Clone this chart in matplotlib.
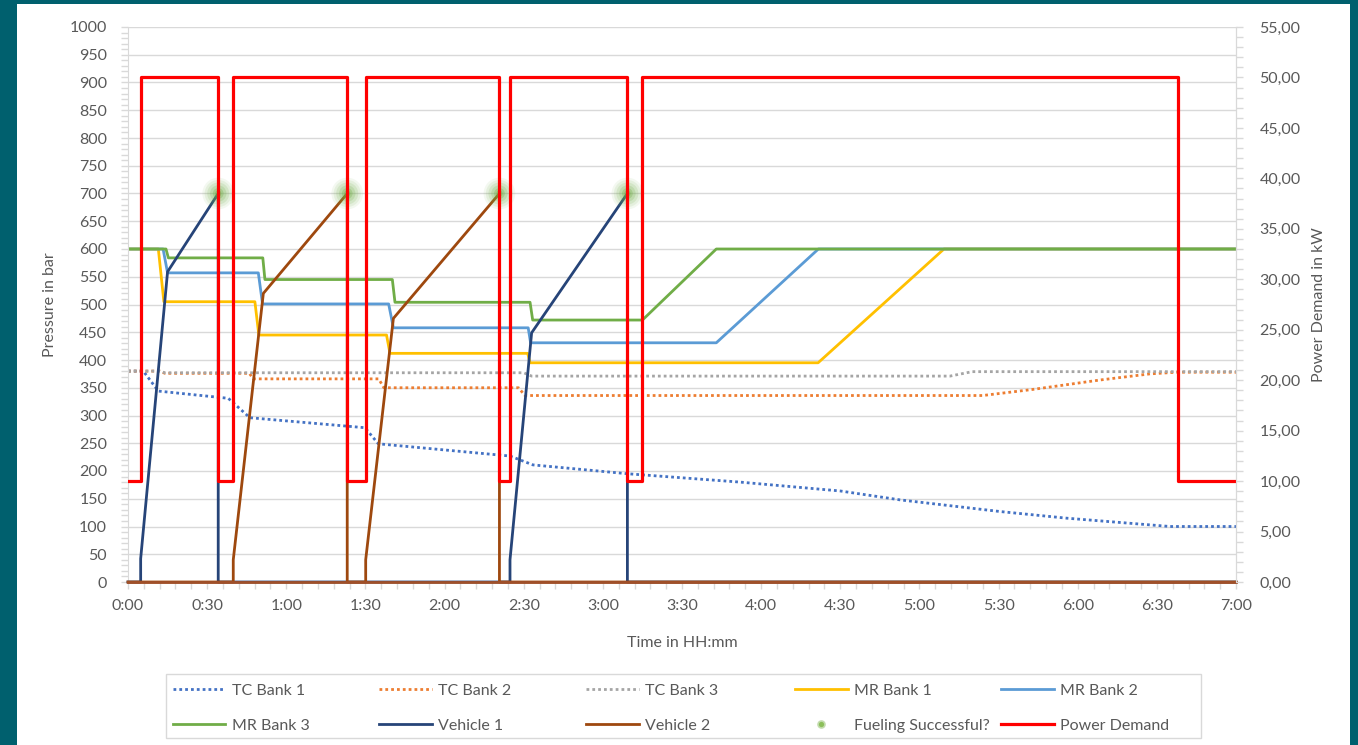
import numpy as np
import matplotlib.pyplot as plt
from matplotlib.patches import Rectangle
from matplotlib.lines import Line2D
from matplotlib.ticker import MultipleLocator, FuncFormatter

plt.rcParams['font.family'] = ['Lato', 'DejaVu Sans']

# time in minutes, pressure in bar
tc1_t = [0, 5.8, 11.5, 38, 46.2, 89.8, 94.9, 144.8, 153.5, 189.5, 232, 270, 292.6, 330.5, 355.8, 395, 420]
tc1_p = [380, 380, 344, 331, 296, 278, 249, 227, 211, 195, 180, 164, 148, 127, 115, 100, 100]

tc2_t = [0, 12, 14, 46, 47.5, 95, 97, 148, 150.5, 324, 343, 368.5, 387.4, 397.5, 420]
tc2_p = [380, 380, 376, 376, 366, 366, 350, 350, 336, 336, 347, 364, 375, 378, 378]

tc3_t = [0, 12, 14, 150, 153, 311.6, 320, 420]
tc3_p = [380, 380, 377, 377, 371, 371, 379, 379]

mr1_t = [0, 11.5, 13.6, 48.1, 49.6, 98, 99.3, 151.5, 152.4, 261.6, 309.3, 420]
mr1_p = [600, 600, 505, 505, 445, 445, 412, 412, 395, 395, 600, 600]

mr2_t = [0, 13.3, 15, 49.4, 51, 98.8, 100.6, 151.7, 152.6, 223, 261.7, 420]
mr2_p = [600, 600, 557, 557, 501, 501, 458, 458, 431, 431, 600, 600]

mr3_t = [0, 14.4, 15.3, 51.1, 51.9, 100.2, 101.2, 152.4, 153.4, 195, 223, 420]
mr3_p = [600, 600, 584, 584, 545, 545, 504, 504, 472, 472, 600, 600]

veh1_t = [0, 4.8, 4.8, 15, 34.2, 34.2, 144.8, 144.8, 153, 189.3, 189.3, 420]
veh1_p = [0, 0, 42, 559, 700, 0, 0, 40, 449, 700, 0, 0]

veh2_t = [0, 39.9, 39.9, 51.3, 83.1, 83.1, 90.1, 90.1, 100.6, 140.8, 140.8, 420]
veh2_p = [0, 0, 40, 520, 700, 0, 0, 40, 475, 700, 0, 0]

fuel_t = [34.2, 83.1, 140.8, 189.3]
fuel_p = [700, 700, 700, 700]

# power demand in kW (step changes)
pwr_t = [0, 4.8, 34.2, 39.9, 83.1, 90.1, 140.8, 144.8, 189.3, 194.7, 398.2, 420]
pwr_kw = [10, 50, 10, 50, 10, 50, 10, 50, 10, 50, 10, 10]

teal = '#00606e'
grey_txt = '#595959'
grid_c = '#d9d9d9'

fig = plt.figure(figsize=(13.58, 7.45), dpi=100, facecolor=teal)
fig.add_artist(Rectangle((17/1358, 0), 1333/1358, 741/745, transform=fig.transFigure,
                         facecolor='white', edgecolor='none', zorder=-10))

ax = fig.add_axes([128/1358, 1-582/745, 1108/1358, 555/745])
ax2 = ax.twinx()

dot = (0, (1, 1.1))
lines = []
lines += ax.plot(tc1_t, tc1_p, color='#4472c4', lw=2, ls=dot, label='TC Bank 1')
lines += ax.plot(tc2_t, tc2_p, color='#ed7d31', lw=2, ls=dot, label='TC Bank 2')
lines += ax.plot(tc3_t, tc3_p, color='#a5a5a5', lw=2, ls=dot, label='TC Bank 3')
lines += ax.plot(mr1_t, mr1_p, color='#ffc000', lw=2, label='MR Bank 1')
lines += ax.plot(mr2_t, mr2_p, color='#5b9bd5', lw=2, label='MR Bank 2')
lines += ax.plot(mr3_t, mr3_p, color='#70ad47', lw=2, label='MR Bank 3')
lines += ax.plot(veh1_t, veh1_p, color='#264478', lw=2, label='Vehicle 1', clip_on=False, zorder=2.6)
lines += ax.plot(veh2_t, veh2_p, color='#9e480e', lw=2, label='Vehicle 2', clip_on=False, zorder=2.7)

# soft glow for the fueling points
for s, a in [(520, 0.08), (380, 0.11), (250, 0.15), (140, 0.2), (60, 0.3), (20, 0.4)]:
    ax.scatter(fuel_t, fuel_p, s=s, color='#70ad47', alpha=a, edgecolors='none', zorder=3)
fuel_handle = Line2D([], [], ls='none', marker='o', markersize=5, color='#8cbf5a',
                     markeredgecolor='#c3dcae', markeredgewidth=1.2, label='Fueling Successful?')

pwr_line, = ax2.plot(pwr_t, pwr_kw, color='#ff0000', lw=2.3, drawstyle='steps-post',
                     label='Power Demand')

ax.set_xlim(0, 420)
ax.set_ylim(0, 1000)
ax2.set_ylim(0, 55)

ax.xaxis.set_major_locator(MultipleLocator(30))
ax.xaxis.set_minor_locator(MultipleLocator(6))
ax.xaxis.set_major_formatter(FuncFormatter(lambda v, p: f"{int(v) // 60}:{int(v) % 60:02d}"))
ax.yaxis.set_major_locator(MultipleLocator(50))
ax.yaxis.set_minor_locator(MultipleLocator(10))
ax2.yaxis.set_major_locator(MultipleLocator(5))
ax2.yaxis.set_minor_locator(MultipleLocator(1))
ax2.yaxis.set_major_formatter(FuncFormatter(lambda v, p: f"{v:.2f}".replace('.', ',')))

ax.grid(axis='y', color=grid_c, lw=1)
ax.set_axisbelow(True)

for a in (ax, ax2):
    for side in ('left', 'right', 'bottom'):
        a.spines[side].set_color(grid_c)
    a.spines['top'].set_visible(False)
    a.tick_params(which='both', colors=grid_c, labelcolor=grey_txt, labelsize=11.5, length=5, width=1)
ax2.spines['bottom'].set_visible(False)
ax2.spines['left'].set_visible(False)
# the zero line reads brown all the way across in the original
ax.spines['bottom'].set_color('#a0502a')
ax.spines['bottom'].set_linewidth(2)
ax.spines['bottom'].set_zorder(2.8)
ax.tick_params(axis='x', pad=7)
ax.tick_params(axis='y', pad=10)
ax2.tick_params(axis='y', pad=12)

ax.set_ylabel('Pressure in bar', color=grey_txt, fontsize=11.5)
ax.yaxis.set_label_coords(-0.0641, 0.5)
ax2.set_ylabel('Power Demand in kW', color=grey_txt, fontsize=11.5)
ax2.yaxis.set_label_coords(1.069, 0.5)
ax.set_xlabel('Time in HH:mm', color=grey_txt, fontsize=11.5)
ax.xaxis.set_label_coords(0.5, -0.097)

# legend: Excel-style even columns
handles = lines + [fuel_handle, pwr_line]
col_x = [172.7, 379, 586, 795, 1001]
for i, x in enumerate(col_x):
    fig.legend(handles=[handles[i], handles[i + 5]], loc='center left',
               bbox_to_anchor=(x/1358, 1-708/745), frameon=False, fontsize=11.5,
               labelcolor=grey_txt, handlelength=3.3, handletextpad=0.4,
               labelspacing=1.3, borderpad=0, borderaxespad=0)
fig.add_artist(Rectangle((166/1358, 1-738/745), 1035/1358, 64/745, transform=fig.transFigure,
                         facecolor='none', edgecolor=grid_c, lw=1))

fig.savefig('out.png', dpi=100, facecolor=teal)
